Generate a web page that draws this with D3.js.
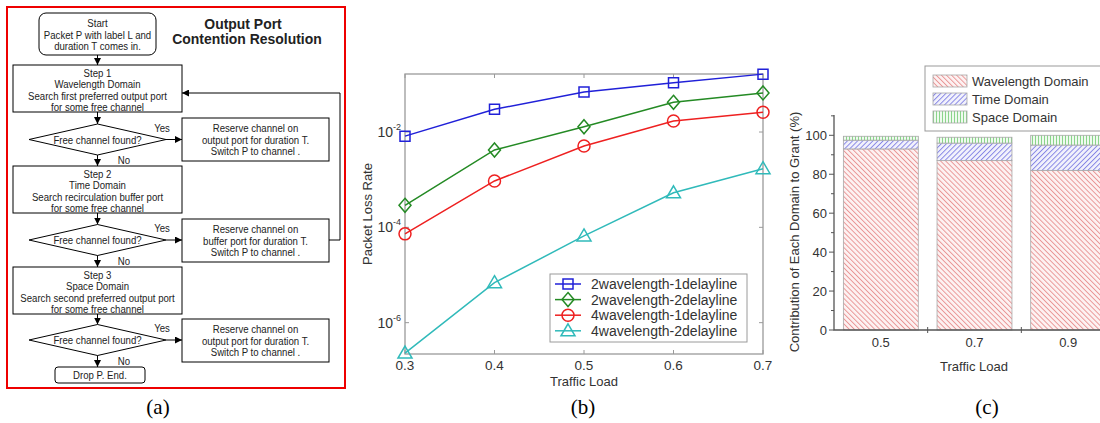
<!DOCTYPE html>
<html>
<head>
<meta charset="utf-8">
<script src="https://cdn.jsdelivr.net/npm/d3@7"></script>
<style>
  body { margin: 0; background: #fff; }
  svg { display: block; font-family: "Liberation Sans", Arial, sans-serif; }
</style>
</head>
<body>
<svg id="fig" width="1100" height="423"></svg>
<script>
// (b) packet loss rate vs traffic load
var loads = [0.3, 0.4, 0.5, 0.6, 0.7];
var seriesNames = ['2wavelength-1delayline', '2wavelength-2delayline', '4wavelength-1delayline', '4wavelength-2delayline'];
var loss2w1d = [8.2e-3, 3.0e-2, 6.9e-2, 1.08e-1, 1.64e-1];
var loss2w2d = [2.9e-4, 4.2e-3, 1.29e-2, 4.2e-2, 6.6e-2];
var loss4w1d = [7.3e-5, 9.4e-4, 5.1e-3, 1.7e-2, 2.6e-2];
var loss4w2d = [2.3e-7, 6.9e-6, 6.6e-5, 5.3e-4, 1.7e-3];
var lossTicks = [1e-2, 1e-4, 1e-6];

// (c) share of each domain in granted requests (%)
var barLoads = ['0.5', '0.7', '0.9'];
var domainNames = ['Wavelength Domain', 'Time Domain', 'Space Domain'];
var wavelengthShare = [93, 87, 82];
var timeShare = [4.5, 9, 13];
var spaceShare = [2, 3, 5];
var shareTicks = [0, 20, 40, 60, 80, 100];

// (a) flowchart text
var stepLines = [
  ['Step 1', 'Wavelength Domain', 'Search first preferred output port', 'for some free channel'],
  ['Step 2', 'Time Domain', 'Search recirculation buffer port', 'for some free channel'],
  ['Step 3', 'Space Domain', 'Search second preferred output port', 'for some free channel']
];
var reserveLines = [
  ['Reserve channel on', 'output port for duration T.', 'Switch P to channel .'],
  ['Reserve channel on', 'buffer port for duration T.', 'Switch P to channel .'],
  ['Reserve channel on', 'output port for duration T.', 'Switch P to channel .']
];

var svg = d3.select('#fig'),
    ink = '#222';

var defs = svg.append('defs');
defs.append('marker')
    .attr('id', 'arrow').attr('viewBox', '0 0 10 10')
    .attr('refX', 10).attr('refY', 5)
    .attr('markerWidth', 7).attr('markerHeight', 7)
    .attr('markerUnits', 'userSpaceOnUse')
    .attr('orient', 'auto')
  .append('path').attr('d', 'M0,0L10,5L0,10Z').attr('fill', '#000');

function hatch(id, bg, fg, angle, gap) {
    var p = defs.append('pattern')
        .attr('id', id).attr('patternUnits', 'userSpaceOnUse')
        .attr('width', gap).attr('height', gap)
        .attr('patternTransform', 'rotate(' + angle + ')');
    p.append('rect').attr('width', gap).attr('height', gap).attr('fill', bg);
    p.append('line').attr('x1', 0.5).attr('y1', 0).attr('x2', 0.5).attr('y2', gap)
        .attr('stroke', fg).attr('stroke-width', 0.9);
}
hatch('hWave', '#fdf2f2', '#e89090', -45, 3.6);
hatch('hTime', '#f2f2fc', '#8080e4', 45, 3.6);
hatch('hSpace', '#effaef', '#80d080', 0, 3);

// flowchart type is a little condensed, so squeeze it horizontally
function lines(g, arr, x, y0, dy, size, weight) {
    g.selectAll(null).data(arr).enter().append('text')
        .attr('transform', function(d, i) { return 'translate(' + x + ',' + (y0 + i * dy) + ') scale(0.9,1)'; })
        .attr('text-anchor', 'middle').attr('font-size', size).attr('fill', ink)
        .attr('font-weight', weight || null)
        .text(function(d) { return d; });
}

/* ---------- (a) flowchart ---------- */
var fc = svg.append('g');
fc.append('rect').attr('x', 7).attr('y', 7).attr('width', 338).attr('height', 381)
    .attr('fill', 'none').attr('stroke', '#e00').attr('stroke-width', 2);

var cx = 97.5, fs = 10.7;
fc.append('rect').attr('x', 39).attr('y', 13).attr('width', 117).attr('height', 42).attr('rx', 7)
    .attr('fill', '#fff').attr('stroke', '#000');
lines(fc, ['Start', 'Packet P with label L and', 'duration T comes in.'], cx, 27, 11.5, fs);

lines(fc, ['Output Port'], 243, 28.5, 0, 15.5, 'bold');
lines(fc, ['Contention Resolution'], 247, 44, 0, 15.5, 'bold');

var stepTop = [65, 166, 267], diaY = [139.5, 240, 340], resTop = [118, 219, 319];

function arrow(pts) {
    fc.append('path').attr('d', d3.line()(pts)).attr('fill', 'none')
        .attr('stroke', '#000').attr('marker-end', 'url(#arrow)');
}

arrow([[cx, 55], [cx, 65]]);
stepLines.forEach(function(sl, i) {
    var t = stepTop[i], dy = diaY[i];
    fc.append('rect').attr('x', 13).attr('y', t).attr('width', 169).attr('height', 47)
        .attr('fill', '#fff').attr('stroke', '#000');
    lines(fc, sl, cx, t + 11.5, 11.5, fs);
    arrow([[cx, t + 47], [cx, dy - 15.5]]);

    fc.append('path')
        .attr('d', 'M29,' + dy + 'L' + cx + ',' + (dy - 15.5) + 'L166,' + dy + 'L' + cx + ',' + (dy + 15.5) + 'Z')
        .attr('fill', '#fff').attr('stroke', '#000');
    lines(fc, ['Free channel found?'], cx, dy + 4, 0, fs);
    lines(fc, ['Yes'], 162, dy - 8, 0, fs);
    lines(fc, ['No'], 124, dy + 24.5, 0, fs);
    arrow([[166, dy], [182, dy]]);

    var r = resTop[i];
    fc.append('rect').attr('x', 182).attr('y', r).attr('width', 147).attr('height', 43)
        .attr('fill', '#fff').attr('stroke', '#000');
    lines(fc, reserveLines[i], 255.5, r + 14, 11.7, fs);

    if (i < 2) arrow([[cx, dy + 15.5], [cx, stepTop[i + 1]]]);
});
// loop back from the buffer reservation to step 1
arrow([[329, 240], [340, 240], [340, 93], [182, 93]]);
arrow([[cx, 355.5], [cx, 367]]);
fc.append('rect').attr('x', 55).attr('y', 367).attr('width', 90).attr('height', 16).attr('rx', 3)
    .attr('fill', '#fff').attr('stroke', '#000');
lines(fc, ['Drop P. End.'], 100, 379, 0, fs);

/* ---------- (b) packet loss ---------- */
var xb = d3.scaleLinear().domain([0.3, 0.7]).range([405, 763]),
    yb = d3.scaleLog().domain([2.2e-7, 0.165]).range([354, 74]);
var gb = svg.append('g'), axisGrey = '#9a9a9a';

gb.append('rect').attr('x', 405).attr('y', 74).attr('width', 358).attr('height', 280)
    .attr('fill', 'none').attr('stroke', axisGrey).attr('stroke-width', 1.3);

gb.selectAll('.xt').data(loads).enter().append('path')
    .attr('d', function(d) { var x = xb(d); return 'M' + x + ',354v-4M' + x + ',74v4'; })
    .attr('stroke', axisGrey);
gb.selectAll('.yt').data(lossTicks).enter().append('path')
    .attr('d', function(d) { var y = yb(d); return 'M405,' + y + 'h4M763,' + y + 'h-4'; })
    .attr('stroke', axisGrey);

gb.selectAll('.xl').data(loads).enter().append('text')
    .attr('x', function(d) { return xb(d); }).attr('y', 369.5)
    .attr('text-anchor', 'middle').attr('font-size', 13.5).attr('fill', '#333')
    .text(d3.format('.1f'));
var yl = gb.selectAll('.yl').data(lossTicks).enter().append('text')
    .attr('x', 401).attr('y', function(d) { return yb(d) + 5; })
    .attr('text-anchor', 'end').attr('font-size', 14).attr('fill', '#333');
yl.append('tspan').text('10');
yl.append('tspan').attr('dy', -7).attr('font-size', 9)
    .text(function(d) { return '-' + Math.round(-Math.log10(d)); });

gb.append('text').attr('x', 584).attr('y', 385.5).attr('text-anchor', 'middle')
    .attr('font-size', 13).attr('fill', '#333').text('Traffic Load');
gb.append('text').attr('transform', 'translate(372,214) rotate(-90)').attr('text-anchor', 'middle')
    .attr('font-size', 13).attr('fill', '#333').text('Packet Loss Rate');

var series = [
    {name: seriesNames[0], values: loss2w1d, color: '#2020d8', shape: 'square'},
    {name: seriesNames[1], values: loss2w2d, color: '#248a24', shape: 'diamond'},
    {name: seriesNames[2], values: loss4w1d, color: '#ee2020', shape: 'circle'},
    {name: seriesNames[3], values: loss4w2d, color: '#30baba', shape: 'triangle'}
];

function marker(sel, s) {
    if (s.shape === 'square') return sel.append('path').attr('d', 'M-5,-5h10v10h-10Z');
    if (s.shape === 'diamond') return sel.append('path').attr('d', 'M0,-7L6,0L0,7L-6,0Z');
    if (s.shape === 'circle') return sel.append('circle').attr('r', 6);
    return sel.append('path').attr('d', 'M0,-7L7,5H-7Z');
}

var line = d3.line().x(function(d, i) { return xb(loads[i]); }).y(function(d) { return yb(d); });
series.forEach(function(s) {
    gb.append('path').datum(s.values).attr('d', line)
        .attr('fill', 'none').attr('stroke', s.color).attr('stroke-width', 1.5);
    s.values.forEach(function(v, i) {
        var m = gb.append('g').attr('transform', 'translate(' + xb(loads[i]) + ',' + yb(v) + ')');
        marker(m, s).attr('fill', 'none').attr('stroke', s.color).attr('stroke-width', 1.5);
    });
});

var lg = gb.append('g');
lg.append('rect').attr('x', 550).attr('y', 274).attr('width', 197).attr('height', 68)
    .attr('fill', '#fff').attr('stroke', axisGrey);
series.forEach(function(s, i) {
    var y = 284 + i * 15.6;
    lg.append('path').attr('d', 'M555,' + y + 'H581').attr('stroke', s.color).attr('stroke-width', 1.5);
    var m = lg.append('g').attr('transform', 'translate(568,' + y + ')');
    marker(m, s).attr('fill', 'none').attr('stroke', s.color).attr('stroke-width', 1.5);
    lg.append('text').attr('x', 591).attr('y', y + 5).attr('font-size', 14).attr('fill', '#333').text(s.name);
});

/* ---------- (c) stacked bars ---------- */
var xc = d3.scaleBand().domain(barLoads).range([834, 1115]).paddingInner(0.2).paddingOuter(0.1),
    yc = d3.scaleLinear().domain([0, 100]).range([330, 135.3]);
var gc = svg.append('g');

var stack = d3.stack().keys([0, 1, 2])
    .value(function(d, k) { return [wavelengthShare, timeShare, spaceShare][k][d]; })([0, 1, 2]);
var fills = ['url(#hWave)', 'url(#hTime)', 'url(#hSpace)'];

stack.forEach(function(layer, k) {
    gc.selectAll(null).data(layer).enter().append('rect')
        .attr('x', function(d, i) { return xc(barLoads[i]); })
        .attr('y', function(d) { return yc(d[1]); })
        .attr('width', xc.bandwidth())
        .attr('height', function(d) { return yc(d[0]) - yc(d[1]); })
        .attr('fill', fills[k]).attr('stroke', '#a8a8a8').attr('stroke-width', 0.8);
});

gc.append('path').attr('d', 'M834,115V330H1100').attr('fill', 'none').attr('stroke', '#555').attr('stroke-width', 1.3);
gc.selectAll('.ct').data(shareTicks).enter().append('path')
    .attr('d', function(d) { return 'M829,' + yc(d) + 'H834'; }).attr('stroke', '#555');
gc.selectAll('.cm').data(shareTicks.map(function(d) { return d + 10; })).enter().append('path')
    .attr('d', function(d) { return 'M831,' + yc(d) + 'H834'; }).attr('stroke', '#555');
gc.selectAll('.cb').data(barLoads.slice(1)).enter().append('path')
    .attr('d', function(d) { var x = xc(d) - xc.step() * 0.1; return 'M' + x + ',327V333'; })
    .attr('stroke', '#555');

gc.selectAll('.cyl').data(shareTicks).enter().append('text')
    .attr('x', 827).attr('y', function(d) { return yc(d) + 4.5; })
    .attr('text-anchor', 'end').attr('font-size', 13).attr('fill', '#333').text(String);
gc.selectAll('.cxl').data(barLoads).enter().append('text')
    .attr('x', function(d) { return xc(d) + xc.bandwidth() / 2; }).attr('y', 347)
    .attr('text-anchor', 'middle').attr('font-size', 13).attr('fill', '#333').text(String);
gc.append('text').attr('x', 974).attr('y', 371).attr('text-anchor', 'middle')
    .attr('font-size', 13).attr('fill', '#333').text('Traffic Load');
gc.append('text').attr('transform', 'translate(799,232) rotate(-90)').attr('text-anchor', 'middle')
    .attr('font-size', 13).attr('fill', '#333').text('Contribution of Each Domain to Grant (%)');

var lc = gc.append('g');
lc.append('rect').attr('x', 925).attr('y', 66).attr('width', 190).attr('height', 65)
    .attr('fill', '#fff').attr('stroke', '#999');
domainNames.forEach(function(n, k) {
    var y = 81 + k * 18;
    lc.append('rect').attr('x', 933).attr('y', y - 6).attr('width', 34).attr('height', 12)
        .attr('fill', fills[k]).attr('stroke', '#a8a8a8').attr('stroke-width', 0.8);
    lc.append('text').attr('x', 972).attr('y', y + 5).attr('font-size', 13).attr('fill', '#333').text(n);
});

/* ---------- panel captions ---------- */
svg.selectAll('.cap').data([['(a)', 158], ['(b)', 583], ['(c)', 987]]).enter().append('text')
    .attr('x', function(d) { return d[1]; }).attr('y', 414)
    .attr('text-anchor', 'middle').attr('font-family', '"Liberation Serif", "Times New Roman", serif')
    .attr('font-size', 21).attr('fill', '#000').text(function(d) { return d[0]; });
</script>
</body>
</html>
